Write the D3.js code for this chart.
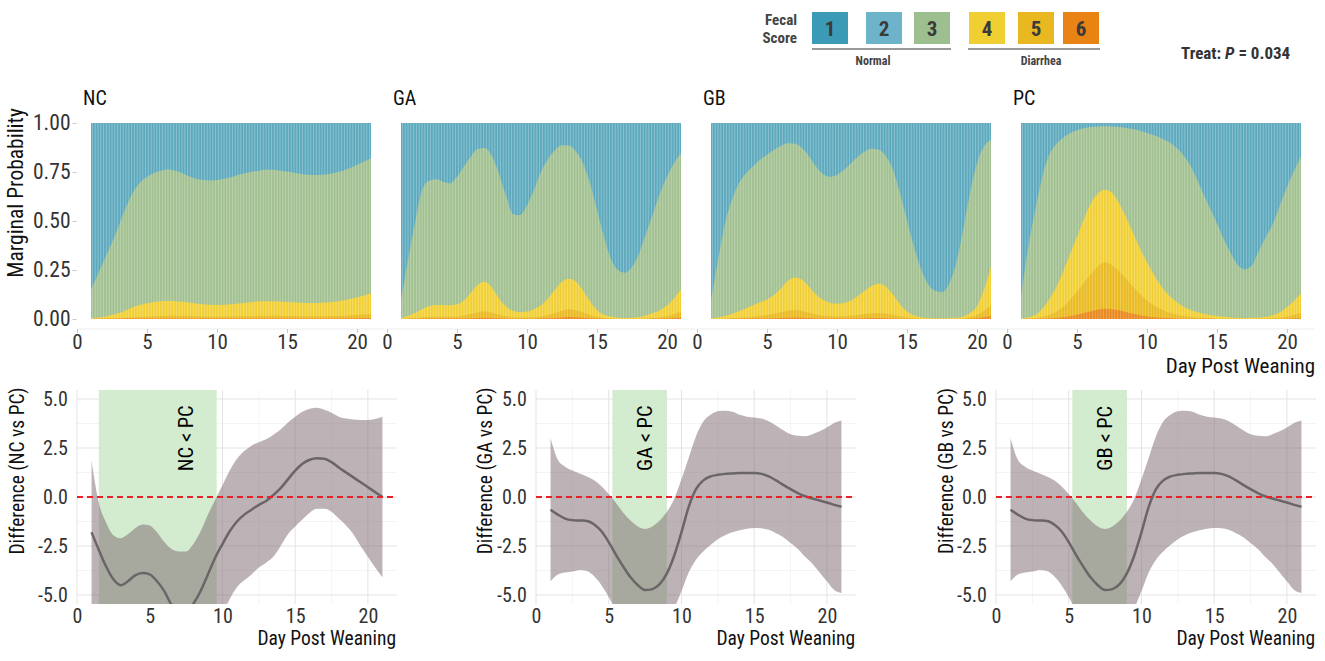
<!DOCTYPE html>
<html><head><meta charset="utf-8">
<script src="https://cdn.jsdelivr.net/npm/d3@7"></script>
<style>
body{margin:0;background:#fff;}
svg text{font-family:'Liberation Sans Narrow','Roboto Condensed',Roboto,sans-serif;}
</style></head><body><svg id="c" width="1325" height="661"></svg>
<script>
// ---------------- DATA ----------------
const daysHalf = d3.range(1, 21.001, 0.5);   // 1, 1.5, ..., 21
const daysInt  = d3.range(1, 22, 1);         // 1 ... 21
const groups = ["NC", "GA", "GB", "PC"];
const scores = ["1", "2", "3", "4", "5", "6"];
const xTicks = [0, 5, 10, 15, 20];
const probTicks = [0, 0.25, 0.5, 0.75, 1];
const diffTicks = [-5, -2.5, 0, 2.5, 5];

// cumulative marginal probability boundaries: P(score>=3), P(>=4) on half days; P(>=5), P(>=6) on whole days
const ncGE3 = [0.15,0.23,0.31,0.39,0.48,0.57,0.645,0.695,0.725,0.745,0.757,0.763,0.758,0.745,0.728,0.715,0.709,0.707,0.709,0.715,0.723,0.735,0.744,0.751,0.757,0.761,0.761,0.757,0.752,0.746,0.74,0.736,0.735,0.736,0.74,0.747,0.757,0.77,0.786,0.803,0.82];
const ncGE4 = [0.005,0.008,0.012,0.02,0.03,0.045,0.06,0.072,0.08,0.087,0.091,0.092,0.091,0.088,0.084,0.079,0.075,0.073,0.072,0.073,0.075,0.079,0.083,0.087,0.09,0.091,0.091,0.089,0.087,0.085,0.083,0.082,0.082,0.083,0.085,0.089,0.095,0.102,0.11,0.12,0.13];
const ncGE5 = [0.001,0.002,0.005,0.009,0.012,0.015,0.016,0.015,0.013,0.012,0.013,0.014,0.016,0.016,0.015,0.014,0.014,0.015,0.017,0.021,0.026];
const ncGE6 = [0,0.001,0.001,0.002,0.002,0.003,0.003,0.003,0.002,0.002,0.002,0.002,0.003,0.003,0.003,0.002,0.002,0.002,0.003,0.004,0.005];

const gaGE3 = [0.094,0.3,0.49,0.655,0.705,0.713,0.70,0.692,0.726,0.778,0.829,0.868,0.872,0.83,0.74,0.63,0.535,0.53,0.58,0.66,0.75,0.815,0.862,0.886,0.885,0.853,0.795,0.692,0.556,0.419,0.305,0.25,0.236,0.265,0.333,0.436,0.538,0.641,0.726,0.795,0.846];
const gaGE4 = [0.005,0.015,0.03,0.05,0.065,0.072,0.072,0.07,0.075,0.095,0.135,0.175,0.19,0.16,0.105,0.065,0.042,0.035,0.038,0.05,0.07,0.105,0.15,0.19,0.205,0.19,0.145,0.09,0.045,0.022,0.012,0.007,0.005,0.006,0.01,0.018,0.03,0.045,0.07,0.105,0.15];
const gaGE5 = [0.001,0.004,0.01,0.011,0.012,0.025,0.04,0.022,0.009,0.008,0.013,0.03,0.05,0.035,0.01,0.003,0.001,0.002,0.005,0.015,0.04];
const gaGE6 = [0,0.001,0.002,0.002,0.002,0.004,0.007,0.004,0.001,0.001,0.002,0.005,0.01,0.006,0.002,0,0,0,0.001,0.003,0.008];

const gbGE3 = [0.094,0.3,0.487,0.607,0.692,0.744,0.778,0.812,0.838,0.863,0.884,0.897,0.894,0.872,0.829,0.778,0.74,0.726,0.735,0.761,0.795,0.829,0.855,0.868,0.863,0.829,0.761,0.641,0.504,0.368,0.256,0.179,0.145,0.137,0.179,0.282,0.453,0.641,0.795,0.88,0.915];
const gbGE4 = [0.002,0.008,0.015,0.027,0.04,0.055,0.07,0.085,0.1,0.122,0.155,0.195,0.212,0.2,0.165,0.125,0.098,0.083,0.078,0.082,0.095,0.118,0.145,0.17,0.18,0.165,0.125,0.075,0.038,0.018,0.009,0.005,0.003,0.003,0.004,0.006,0.012,0.03,0.065,0.15,0.265];
const gbGE5 = [0,0.002,0.006,0.012,0.02,0.035,0.046,0.032,0.017,0.013,0.016,0.025,0.03,0.02,0.008,0.002,0.001,0.001,0.003,0.02,0.07];
const gbGE6 = [0,0,0.001,0.002,0.003,0.005,0.008,0.005,0.002,0.002,0.002,0.004,0.005,0.003,0.001,0,0,0,0,0.004,0.015];

const pcGE3 = [0.111,0.36,0.55,0.72,0.835,0.89,0.925,0.948,0.963,0.973,0.979,0.982,0.983,0.982,0.979,0.975,0.969,0.96,0.949,0.937,0.923,0.905,0.88,0.845,0.795,0.725,0.641,0.565,0.487,0.405,0.333,0.274,0.253,0.274,0.35,0.42,0.487,0.58,0.675,0.755,0.829];
const pcGE4 = [0.002,0.008,0.02,0.05,0.1,0.16,0.24,0.33,0.42,0.51,0.59,0.64,0.66,0.645,0.59,0.52,0.44,0.36,0.29,0.225,0.17,0.125,0.094,0.068,0.05,0.037,0.028,0.02,0.015,0.011,0.008,0.006,0.005,0.006,0.008,0.012,0.02,0.035,0.06,0.092,0.13];
const pcGE5 = [0,0.004,0.02,0.06,0.14,0.23,0.29,0.245,0.165,0.095,0.05,0.024,0.012,0.006,0.003,0.002,0.001,0.002,0.004,0.012,0.03];
const pcGE6 = [0,0.001,0.003,0.009,0.022,0.04,0.052,0.045,0.027,0.013,0.006,0.003,0.001,0.001,0,0,0,0,0,0.001,0.004];

// differences vs PC (half-day grid): estimate, upper and lower credible bounds
const ncMean  = [-1.8,-2.7,-3.55,-4.2,-4.5,-4.3,-4.0,-3.88,-3.95,-4.3,-4.8,-5.5,-5.85,-5.9,-5.45,-4.8,-3.95,-3.1,-2.4,-1.75,-1.25,-0.9,-0.65,-0.4,-0.2,0.1,0.45,0.9,1.35,1.7,1.9,1.98,1.95,1.78,1.5,1.25,1.0,0.75,0.5,0.25,0.0];
const ncUpper = [1.85,-0.3,-1.3,-1.95,-2.1,-1.9,-1.6,-1.4,-1.45,-1.8,-2.3,-2.65,-2.78,-2.78,-2.4,-1.75,-0.9,-0.15,0.6,1.35,1.95,2.35,2.62,2.8,2.95,3.18,3.45,3.8,4.1,4.35,4.5,4.55,4.45,4.3,4.1,4.0,3.95,3.93,3.93,3.98,4.1];
const ncLower = [-7.5,-7.8,-8,-8.1,-8.1,-8,-7.9,-7.9,-8,-8.2,-8.5,-8.8,-9,-9,-8.8,-8.3,-7.6,-6.8,-6.0,-5.2,-4.6,-4.25,-3.95,-3.6,-3.35,-3.05,-2.5,-1.9,-1.5,-1.15,-0.8,-0.6,-0.6,-0.75,-1.1,-1.45,-1.9,-2.5,-3.05,-3.6,-4.1];

const gaMean  = [-0.65,-0.9,-1.1,-1.18,-1.2,-1.22,-1.4,-1.75,-2.3,-2.95,-3.55,-4.1,-4.5,-4.75,-4.7,-4.45,-3.9,-3.0,-1.8,-0.5,0.4,0.85,1.05,1.13,1.18,1.2,1.22,1.22,1.22,1.18,1.05,0.85,0.62,0.4,0.2,0.04,-0.08,-0.18,-0.28,-0.4,-0.5];
const gaUpper = [3.0,1.9,1.55,1.35,1.2,1.05,0.85,0.55,0.15,-0.3,-0.8,-1.2,-1.5,-1.63,-1.5,-1.2,-0.75,-0.1,0.9,2.0,3.1,3.85,4.2,4.38,4.4,4.35,4.2,4.1,4.06,4.0,3.87,3.65,3.4,3.2,3.12,3.1,3.2,3.35,3.55,3.78,3.9];
const gaLower = [-4.3,-3.95,-3.85,-3.8,-3.72,-3.78,-4.05,-4.5,-5.1,-5.8,-6.4,-6.9,-7.2,-7.3,-7.2,-6.9,-6.4,-5.7,-4.8,-3.85,-3.2,-2.78,-2.45,-2.15,-1.95,-1.8,-1.7,-1.62,-1.58,-1.6,-1.67,-1.85,-2.05,-2.35,-2.65,-3.05,-3.4,-3.85,-4.3,-4.75,-4.9];

const gbMean  = [-0.65,-0.9,-1.1,-1.18,-1.2,-1.22,-1.4,-1.75,-2.3,-2.95,-3.55,-4.1,-4.5,-4.75,-4.7,-4.45,-3.9,-3.0,-1.8,-0.5,0.4,0.85,1.05,1.13,1.18,1.2,1.22,1.22,1.22,1.18,1.05,0.85,0.62,0.4,0.2,0.04,-0.08,-0.18,-0.28,-0.4,-0.5];
const gbUpper = [3.0,1.9,1.55,1.35,1.2,1.05,0.85,0.55,0.15,-0.3,-0.8,-1.2,-1.5,-1.63,-1.5,-1.2,-0.75,-0.1,0.9,2.0,3.1,3.85,4.2,4.38,4.4,4.35,4.2,4.1,4.06,4.0,3.87,3.65,3.4,3.2,3.12,3.1,3.2,3.35,3.55,3.78,3.9];
const gbLower = [-4.3,-3.95,-3.85,-3.8,-3.72,-3.78,-4.05,-4.5,-5.1,-5.8,-6.4,-6.9,-7.2,-7.3,-7.2,-6.9,-6.4,-5.7,-4.8,-3.85,-3.2,-2.78,-2.45,-2.15,-1.95,-1.8,-1.7,-1.62,-1.58,-1.6,-1.67,-1.85,-2.05,-2.35,-2.65,-3.05,-3.4,-3.85,-4.3,-4.75,-4.9];

// significant windows (day from, day to) and label anchor (day, difference)
const ncSig = [1.5, 9.6];
const gaSig = [5.25, 9.0];
const gbSig = [5.25, 9.0];
const sigLabelAt = [7.5, 3.0];

// ---------------- STYLE ----------------
const legendColors = ["#3b9ab5", "#6db3ca", "#9dbf8f", "#f0cf33", "#e9b820", "#e98314"];
const bandColors = {blue:"#5ca9be", green:"#a1c08f", yellow:"#f1cf33", dark:"#e9b91e", orange:"#ea861a"};
const FONT = "'Liberation Sans Narrow','Roboto Condensed',Roboto,sans-serif";

const svg = d3.select("#c");

// ---------------- LEGEND ----------------
const leg = svg.append("g");
leg.append("text").attr("x", 797).attr("y", 25).attr("text-anchor","end")
  .attr("font-size", 15).attr("font-weight","bold").attr("fill","#444").text("Fecal");
leg.append("text").attr("x", 797).attr("y", 43).attr("text-anchor","end")
  .attr("font-size", 15).attr("font-weight","bold").attr("fill","#444").text("Score");
const boxX = [812, 866, 914, 969, 1018, 1063];
scores.forEach((s,i)=>{
  leg.append("rect").attr("x", boxX[i]).attr("y", 12).attr("width", 36).attr("height", 32)
    .attr("fill", legendColors[i]);
  leg.append("text").attr("x", boxX[i]+18).attr("y", 36).attr("text-anchor","middle")
    .attr("font-size", 21).attr("font-weight","bold").attr("fill","#3a3a3a").text(s);
});
leg.append("line").attr("x1",812).attr("x2",951).attr("y1",49).attr("y2",49).attr("stroke","#777").attr("stroke-width",1.5);
leg.append("line").attr("x1",968).attr("x2",1100).attr("y1",49).attr("y2",49).attr("stroke","#777").attr("stroke-width",1.5);
leg.append("text").attr("x", 873).attr("y", 65).attr("text-anchor","middle")
  .attr("font-size", 12).attr("font-weight","bold").attr("fill","#444").text("Normal");
leg.append("text").attr("x", 1041).attr("y", 65).attr("text-anchor","middle")
  .attr("font-size", 12).attr("font-weight","bold").attr("fill","#444").text("Diarrhea");
const tr = leg.append("text").attr("x", 1181).attr("y", 59).attr("font-size", 17)
  .attr("font-weight","bold").attr("fill","#333");
tr.append("tspan").text("Treat: ");
tr.append("tspan").attr("font-style","italic").text("P");
tr.append("tspan").text(" = 0.034");

// ---------------- TOP PANELS ----------------
const topData = {
  NC:{ge3:ncGE3, ge4:ncGE4, ge5:ncGE5, ge6:ncGE6},
  GA:{ge3:gaGE3, ge4:gaGE4, ge5:gaGE5, ge6:gaGE6},
  GB:{ge3:gbGE3, ge4:gbGE4, ge5:gbGE5, ge6:gbGE6},
  PC:{ge3:pcGE3, ge4:pcGE4, ge5:pcGE5, ge6:pcGE6}
};
const topLeft = [77, 387, 697, 1007];
const yTop = d3.scaleLinear().domain([-0.05, 1.05]).range([328.8, 113.2]);

function styleAxis(s, size, color){
  s.attr("font-family", FONT).attr("font-size", size);
  s.select(".domain").remove();
  s.selectAll("text").attr("fill", color);
  s.selectAll(".tick line").attr("stroke", "#c8c8c8");
}

groups.forEach((grp, i)=>{
  const d = topData[grp];
  const x = d3.scaleLinear().domain([0, 22]).range([topLeft[i], topLeft[i] + 308]);
  const g = svg.append("g");
  const mk = (days, vals) => d3.area()
      .x((v,j)=>x(days[j])).y0(yTop(0)).y1(v=>yTop(v))
      .curve(d3.curveMonotoneX)(vals);
  g.append("path").attr("d", mk(daysHalf, daysHalf.map(()=>1))).attr("fill", bandColors.blue);
  g.append("path").attr("d", mk(daysHalf, d.ge3)).attr("fill", bandColors.green);
  g.append("path").attr("d", mk(daysHalf, d.ge4)).attr("fill", bandColors.yellow);
  g.append("path").attr("d", mk(daysInt, d.ge5)).attr("fill", bandColors.dark);
  g.append("path").attr("d", mk(daysInt, d.ge6)).attr("fill", bandColors.orange);
  // bar seams (one bar per 0.2 day)
  g.selectAll("line.seam").data(d3.range(1.1, 20.95, 0.2)).join("line")
    .attr("x1", v=>x(v)).attr("x2", v=>x(v)).attr("y1", yTop(0)).attr("y2", yTop(1))
    .attr("stroke", "#fff").attr("stroke-width", 0.6).attr("stroke-opacity", 0.5);
  // axis line + ticks
  g.append("line").attr("x1", x(0)).attr("x2", x(22)).attr("y1", 329).attr("y2", 329)
    .attr("stroke", "#ececec");
  g.append("g").attr("transform", "translate(0,329)")
    .call(d3.axisBottom(x).tickValues(xTicks).tickSize(4).tickPadding(1))
    .call(s=>styleAxis(s, 21, "#333"));
  if (i === 0) {
    g.append("g").attr("transform", `translate(${x(0)-0.5},0)`)
      .call(d3.axisLeft(yTop).tickValues(probTicks).tickFormat(v=>v.toFixed(2)).tickSize(4).tickPadding(2))
      .call(s=>styleAxis(s, 21.5, "#333"));
  }
  g.append("text").attr("x", topLeft[i] + 6).attr("y", 105).attr("font-size", 20)
    .attr("fill", "#111").text(grp);
});
svg.append("text").attr("transform", "translate(23,193) rotate(-90)").attr("text-anchor","middle")
  .attr("font-size", 21.5).attr("fill","#111").text("Marginal Probability");
svg.append("text").attr("x", 1315).attr("y", 373).attr("text-anchor","end")
  .attr("font-size", 21).attr("fill","#111").text("Day Post Weaning");

// ---------------- BOTTOM PANELS ----------------
const diffs = [
  {g:"NC", mean:ncMean, upper:ncUpper, lower:ncLower, sig:ncSig, left:77,  titleX:17},
  {g:"GA", mean:gaMean, upper:gaUpper, lower:gaLower, sig:gaSig, left:536, titleX:485},
  {g:"GB", mean:gbMean, upper:gbUpper, lower:gbLower, sig:gbSig, left:996, titleX:946}
];
const yBot = d3.scaleLinear().domain([-5.46, 5.46]).range([604, 390]);

diffs.forEach((p, i)=>{
  const x = d3.scaleLinear().domain([0, 22]).range([p.left, p.left + 320]);
  const g = svg.append("g");
  const cid = "clip" + i;
  g.append("clipPath").attr("id", cid).append("rect")
    .attr("x", x(0)).attr("y", yBot(5.46)).attr("width", x(22)-x(0)).attr("height", yBot(-5.46)-yBot(5.46));
  // grid
  const minorX = [2.5, 7.5, 12.5, 17.5];
  const minorY = [-3.75, -1.25, 1.25, 3.75];
  g.selectAll("line.mx").data(minorX).join("line").attr("x1",v=>x(v)).attr("x2",v=>x(v))
    .attr("y1", yBot(5.46)).attr("y2", yBot(-5.46)).attr("stroke","#f1f1f1").attr("stroke-width",0.8);
  g.selectAll("line.my").data(minorY).join("line").attr("y1",v=>yBot(v)).attr("y2",v=>yBot(v))
    .attr("x1", x(0)).attr("x2", x(22)).attr("stroke","#f1f1f1").attr("stroke-width",0.8);
  g.selectAll("line.gx").data(xTicks).join("line").attr("x1",v=>x(v)).attr("x2",v=>x(v))
    .attr("y1", yBot(5.46)).attr("y2", yBot(-5.46)).attr("stroke","#e3e3e3").attr("stroke-width",1);
  g.selectAll("line.gy").data(diffTicks).join("line").attr("y1",v=>yBot(v)).attr("y2",v=>yBot(v))
    .attr("x1", x(0)).attr("x2", x(22)).attr("stroke","#e3e3e3").attr("stroke-width",1);
  const pl = g.append("g").attr("clip-path", `url(#${cid})`);
  // significance window
  pl.append("rect").attr("x", x(p.sig[0])).attr("width", x(p.sig[1]) - x(p.sig[0]))
    .attr("y", yBot(5.46)).attr("height", yBot(-5.46) - yBot(5.46)).attr("fill", "#d3ebce");
  // ribbon
  const rib = d3.area().x((v,j)=>x(daysHalf[j])).y0((v,j)=>yBot(p.lower[j])).y1((v,j)=>yBot(p.upper[j]))
    .curve(d3.curveMonotoneX);
  pl.append("path").attr("d", rib(p.mean)).attr("fill", "#7b6870").attr("fill-opacity", 0.5);
  const ln = d3.line().x((v,j)=>x(daysHalf[j])).y(v=>yBot(v)).curve(d3.curveMonotoneX);
  pl.append("path").attr("d", ln(p.mean)).attr("fill","none").attr("stroke","#6b6568").attr("stroke-width",2.5);
  pl.append("line").attr("x1", x(0)).attr("x2", x(22)).attr("y1", yBot(0)).attr("y2", yBot(0))
    .attr("stroke", "#e8202a").attr("stroke-width", 1.8).attr("stroke-dasharray", "6,4");
  pl.append("text").attr("transform", `translate(${x(sigLabelAt[0])},${yBot(sigLabelAt[1])}) rotate(-90)`)
    .attr("text-anchor","middle").attr("dy","0.35em").attr("font-size", 20.5).attr("fill","#000")
    .text(`${p.g} < PC`);
  // axes
  g.append("g").attr("transform", `translate(0,604)`)
    .call(d3.axisBottom(x).tickValues(xTicks).tickSize(0).tickPadding(5))
    .call(s=>styleAxis(s, 20, "#333"));
  g.append("g").attr("transform", `translate(${x(0)},0)`)
    .call(d3.axisLeft(yBot).tickValues(diffTicks).tickFormat(v=>v.toFixed(1)).tickSize(0).tickPadding(9))
    .call(s=>styleAxis(s, 20, "#333"));
  g.append("text").attr("x", x(22) - 1).attr("y", 645).attr("text-anchor","end")
    .attr("font-size", 19.5).attr("fill","#111").text("Day Post Weaning");
  g.append("text").attr("transform", `translate(${p.titleX + 7},471) rotate(-90)`).attr("text-anchor","middle")
    .attr("font-size", 19.5).attr("fill","#111").text(`Difference (${p.g} vs PC)`);
});
</script>
</body></html>
